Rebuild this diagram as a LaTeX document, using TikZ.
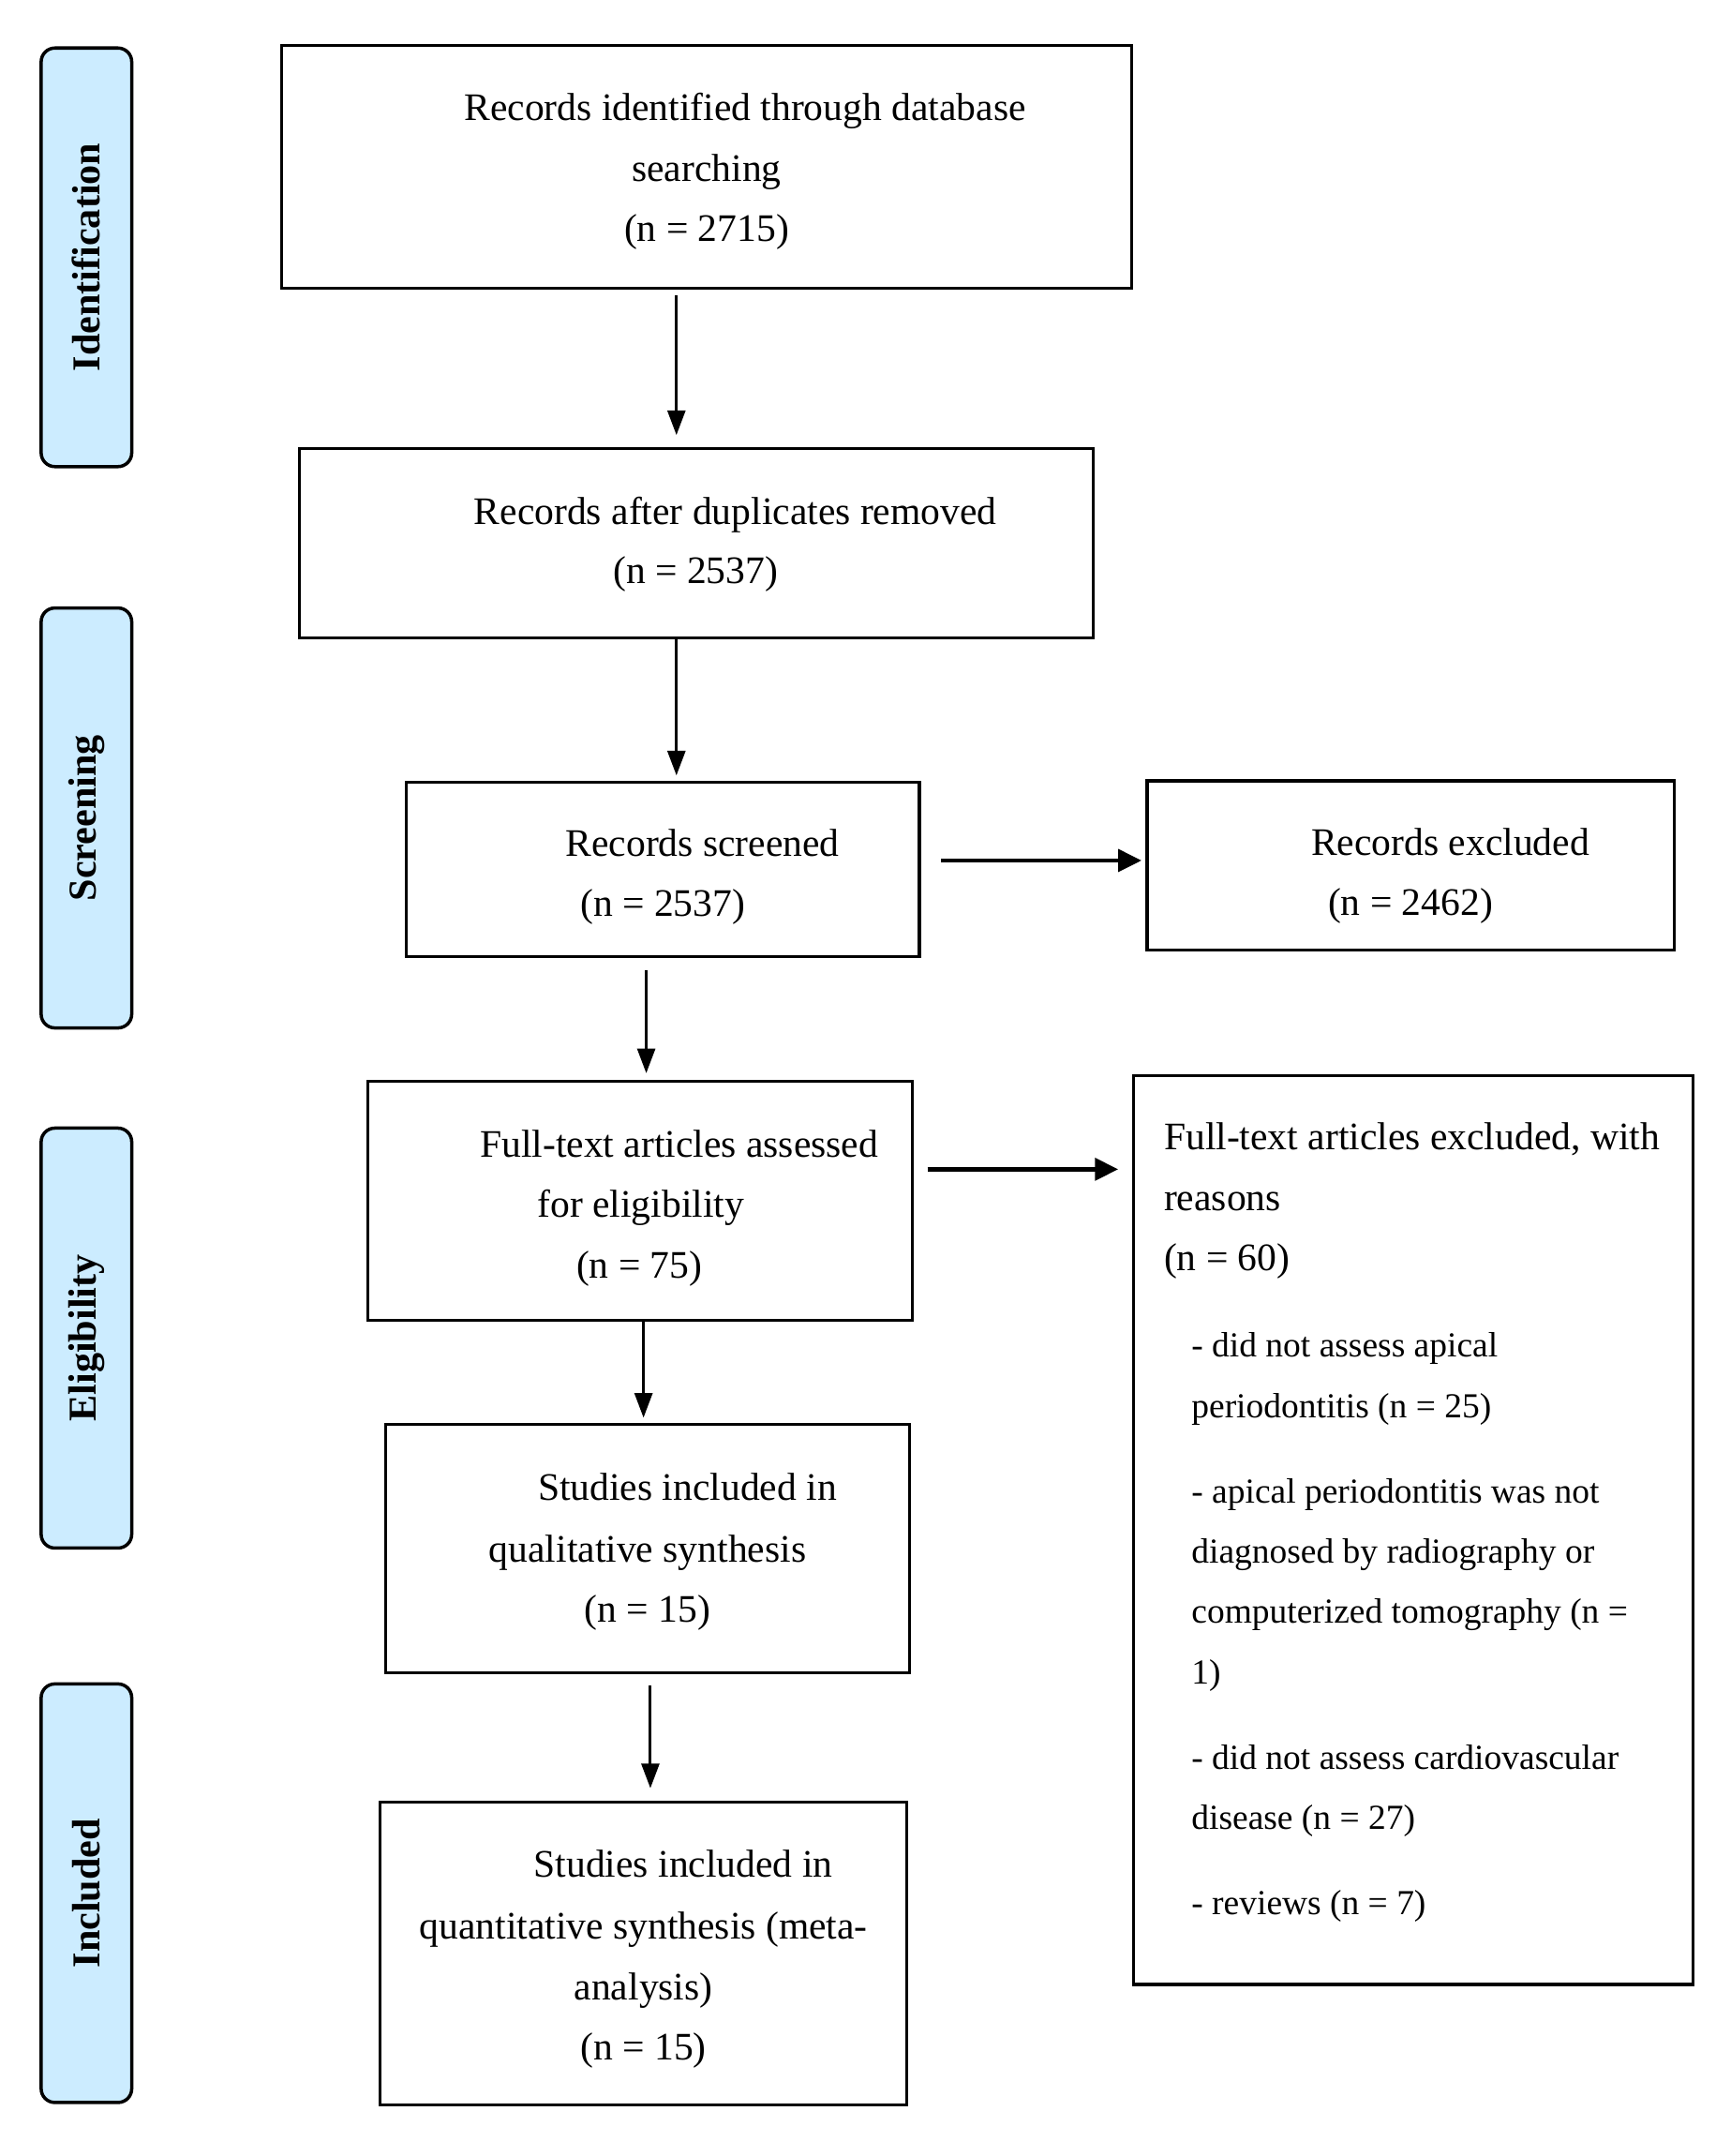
\documentclass[tikz,border=0pt]{standalone}
\usepackage{fontspec}
\setmainfont{Liberation Serif}
\usetikzlibrary{arrows.meta}
\definecolor{stagefill}{RGB}{204,236,255}
\begin{document}
\begin{tikzpicture}[x=0.5pt,y=-0.5pt,
  box/.style={draw, line width=1.1pt, anchor=north west, inner sep=0pt, outer sep=0pt},
  stage/.style={draw, line width=1.2pt, fill=stagefill, rounded corners=5pt, anchor=north west, minimum width=33pt, inner sep=0pt, outer sep=0pt},
  stagetxt/.style={rotate=90, inner sep=0pt, font=\fontsize{14.4}{17}\selectfont\bfseries},
  main/.style={anchor=base, inner sep=0pt, font=\fontsize{14.2}{22}\selectfont},
  mainl/.style={main, anchor=base west},
  small/.style={anchor=base west, inner sep=0pt, font=\fontsize{12.8}{22}\selectfont},
  varr/.style={-{Triangle[length=9pt,width=6.5pt]}, line width=1pt},
  harr/.style={-{Triangle[length=8.5pt,width=8pt]}, line width=1.6pt}]
\useasboundingbox (0,0) rectangle (1250,1571);

% stage labels
\node[stage, minimum height=152.5pt] (s1) at (30,35) {};
\node[stagetxt] (s1t) at (s1.center) {Identification};
\node[stage, minimum height=153pt] (s2) at (30,443) {};
\node[stagetxt] (s2t) at (s2.center) {Screening};
\node[stage, minimum height=153pt] (s3) at (30,822) {};
\node[stagetxt] (s3t) at (s3.center) {Eligibility};
\node[stage, minimum height=152.5pt] (s4) at (30,1227) {};
\node[stagetxt] (s4t) at (s4.center) {Included};

% boxes
\node[box, minimum width=310pt, minimum height=88.5pt] (b1) at (205,33) {};
\node[box, minimum width=289.5pt, minimum height=69pt] (b2) at (218,327) {};
\node[box, minimum width=187pt, minimum height=63.5pt] (b3) at (296,570) {};
\node[box, minimum width=192pt, minimum height=61.5pt] (b4) at (836,569) {};
\node[box, minimum width=198.5pt, minimum height=87pt] (b5) at (268,788) {};
\node[box, minimum width=204pt, minimum height=331pt] (b6) at (826,784) {};
\node[box, minimum width=191pt, minimum height=90.5pt] (b7) at (281,1038) {};
\node[box, minimum width=192pt, minimum height=110.5pt] (b8) at (277,1313) {};

% texts
\node[main] (t1a) at (543,88) {Records identified through database};
\node[main] (t1b) at (515,132) {searching};
\node[main] (t1c) at (515,176) {(n = 2715)};
\node[main] (t2a) at (536,382) {Records after duplicates removed};
\node[main] (t2b) at (507,425) {(n = 2537)};
\node[main] (t3a) at (512,624) {Records screened};
\node[main] (t3b) at (483,668) {(n = 2537)};
\node[main] (t4a) at (1057,623) {Records excluded};
\node[main] (t4b) at (1028,667) {(n = 2462)};
\node[main] (t5a) at (495,843) {Full-text articles assessed};
\node[main] (t5b) at (467,887) {for eligibility};
\node[main] (t5c) at (466,931) {(n = 75)};
\node[mainl] (t6a) at (848,838) {Full-text articles excluded, with};
\node[mainl] (t6b) at (848,882) {reasons};
\node[mainl] (t6c) at (848,926) {(n = 60)};
\node[small] (t6d) at (868,989) {- did not assess apical};
\node[small] (t6e) at (868,1033) {periodontitis (n = 25)};
\node[small] (t6f) at (868,1095) {- apical periodontitis was not};
\node[small] (t6g) at (868,1139) {diagnosed by radiography or};
\node[small] (t6h) at (868,1183) {computerized tomography (n =};
\node[small] (t6i) at (868,1227) {1)};
\node[small] (t6j) at (868,1289) {- did not assess cardiovascular};
\node[small] (t6k) at (868,1333) {disease (n = 27)};
\node[small] (t6l) at (868,1395) {- reviews (n = 7)};
\node[main] (t7a) at (501,1093) {Studies included in};
\node[main] (t7b) at (472,1138) {qualitative synthesis};
\node[main] (t7c) at (472,1182) {(n = 15)};
\node[main] (t8a) at (498,1368) {Studies included in};
\node[main] (t8b) at (469,1413) {quantitative synthesis (meta-};
\node[main] (t8c) at (469,1457) {analysis)};
\node[main] (t8d) at (469,1501) {(n = 15)};

% arrow guide coordinates
\coordinate (xa1) at (493,0);
\coordinate (xa3) at (471,0);
\coordinate (xa4) at (469,0);
\coordinate (xa5) at (474,0);
\coordinate (yh1) at (0,627);
\coordinate (yh2) at (0,852);

% connectors
\draw[varr, shorten <=2.5pt, shorten >=5pt] (b1.south -| xa1) -- (b2.north -| xa1);
\draw[varr, shorten >=2.5pt] (b2.south -| xa1) -- (b3.north -| xa1);
\draw[varr, shorten <=5pt, shorten >=3pt] (b3.south -| xa3) -- (b5.north -| xa3);
\draw[varr, shorten >=2.5pt] (b5.south -| xa4) -- (b7.north -| xa4);
\draw[varr, shorten <=4.5pt, shorten >=5pt] (b7.south -| xa5) -- (b8.north -| xa5);
\draw[harr, shorten <=8pt, shorten >=2pt] (b3.east |- yh1) -- (b4.west |- yh1);
\draw[harr, shorten <=5.5pt, shorten >=5.5pt] (b5.east |- yh2) -- (b6.west |- yh2);
\end{tikzpicture}
\end{document}
